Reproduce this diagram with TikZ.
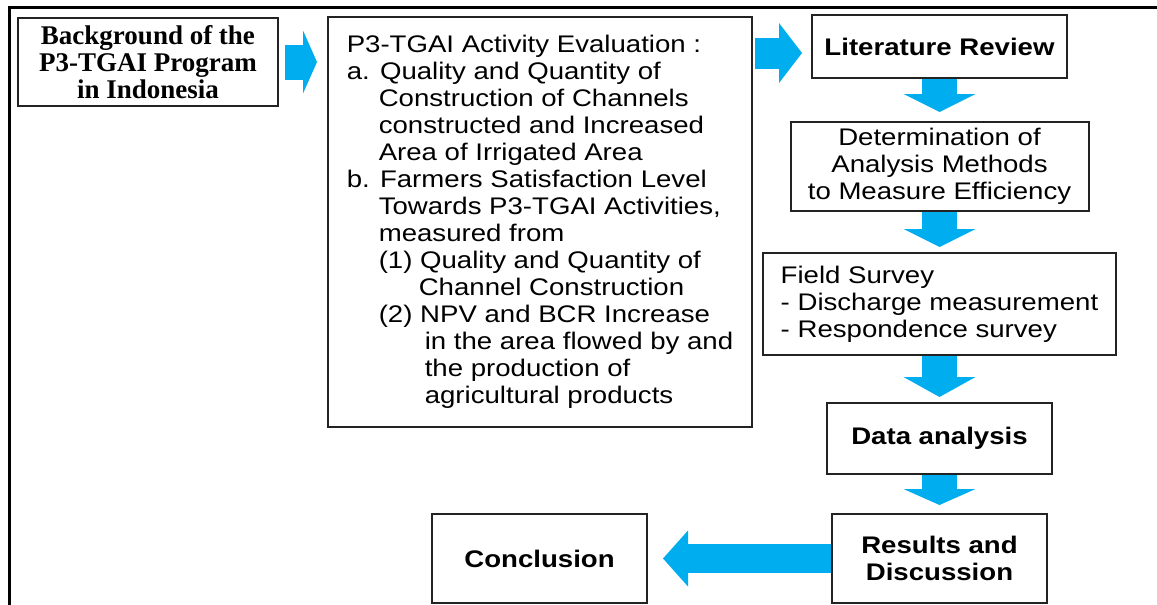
\documentclass[tikz,border=0pt]{standalone}
\usepackage{fontspec}
\newfontfamily\sansbox[FakeStretch=1.15]{Liberation Sans}
\newfontfamily\serifbox{Liberation Serif}
\usetikzlibrary{arrows.meta,calc}
\definecolor{flowblue}{RGB}{0,174,239}
\definecolor{framegray}{RGB}{35,35,35}

\begin{document}
\begin{tikzpicture}[x=1pt,y=-1pt,
  box/.style={draw=framegray,line width=2pt,inner sep=0pt,align=center,font=\sansbox\fontsize{24}{27}\selectfont},
  flow/.style n args={3}{draw=flowblue,line width=#1,-{Triangle[width=#2,length=#3,line width=0pt]}}]
\useasboundingbox (0,0) rectangle (1157,605);
\draw[line width=3pt] (9,605) -- (9,7) -- (1157,7);

% left column
\node[box,minimum width=260pt,minimum height=88pt,font=\serifbox\bfseries\fontsize{27}{27}\selectfont] (bg) at (148,62)
  {Background of the\\P3-TGAI Program\\in Indonesia};
\node[box,align=left,minimum width=424pt,minimum height=410pt] (eval) at (540,222)
  {P3-TGAI Activity Evaluation :\\
   a. Quality and Quantity of\\
   \hspace*{32pt}Construction of Channels\\
   \hspace*{32pt}constructed and Increased\\
   \hspace*{32pt}Area of Irrigated Area\\
   b. Farmers Satisfaction Level\\
   \hspace*{32pt}Towards P3-TGAI Activities,\\
   \hspace*{32pt}measured from\\
   \hspace*{32pt}(1) Quality and Quantity of\\
   \hspace*{72pt}Channel Construction\\
   \hspace*{32pt}(2) NPV and BCR Increase\\
   \hspace*{78pt}in the area flowed by and\\
   \hspace*{78pt}the production of\\
   \hspace*{78pt}agricultural products};

% right column
\node[box,minimum width=255pt,minimum height=63pt,font=\sansbox\bfseries\fontsize{24}{27}\selectfont] (lit) at (939.5,46.5) {Literature Review};
\node[box,minimum width=298pt,minimum height=89pt] (det) at (939.5,166.5)
  {Determination of\\Analysis Methods\\to Measure Efficiency};
\node[box,align=left,minimum width=353pt,minimum height=102pt] (field) at (939.5,304)
  {Field Survey\\- Discharge measurement\\- Respondence survey};
\node[box,minimum width=225pt,minimum height=71pt,font=\sansbox\bfseries\fontsize{24}{27}\selectfont] (data) at (939.5,438.5) {Data analysis};
\node[box,minimum width=215pt,minimum height=89pt,font=\sansbox\bfseries\fontsize{24}{27}\selectfont] (res) at (939.5,558.5) {Results and\\Discussion};
\node[box,minimum width=215pt,minimum height=89pt,font=\sansbox\bfseries\fontsize{24}{27}\selectfont] (conc) at (539.5,558.5) {Conclusion};

% arrows
\draw[flow={35pt}{63pt}{14pt},shorten <=6pt,shorten >=10pt] (bg.east) -- (eval.west |- bg.east);
\draw[flow={31pt}{60pt}{23pt},shorten <=2pt,shorten >=9pt] ($(eval.east |- lit.west)+(0,6.5)$) -- ([yshift=-6.5pt]lit.west);
\draw[flow={35pt}{72pt}{18pt},shorten >=9pt] (lit.south) -- (det.north);
\draw[flow={35pt}{72pt}{18pt},shorten >=5pt] (det.south) -- (field.north);
\draw[flow={35pt}{72pt}{20pt},shorten >=5pt] (field.south) -- (data.north);
\draw[flow={35pt}{72pt}{16pt},shorten >=8pt] (data.south) -- (res.north);
\draw[flow={29pt}{56pt}{25pt},shorten >=15pt] (res.west) -- (conc.east);
\end{tikzpicture}
\end{document}
